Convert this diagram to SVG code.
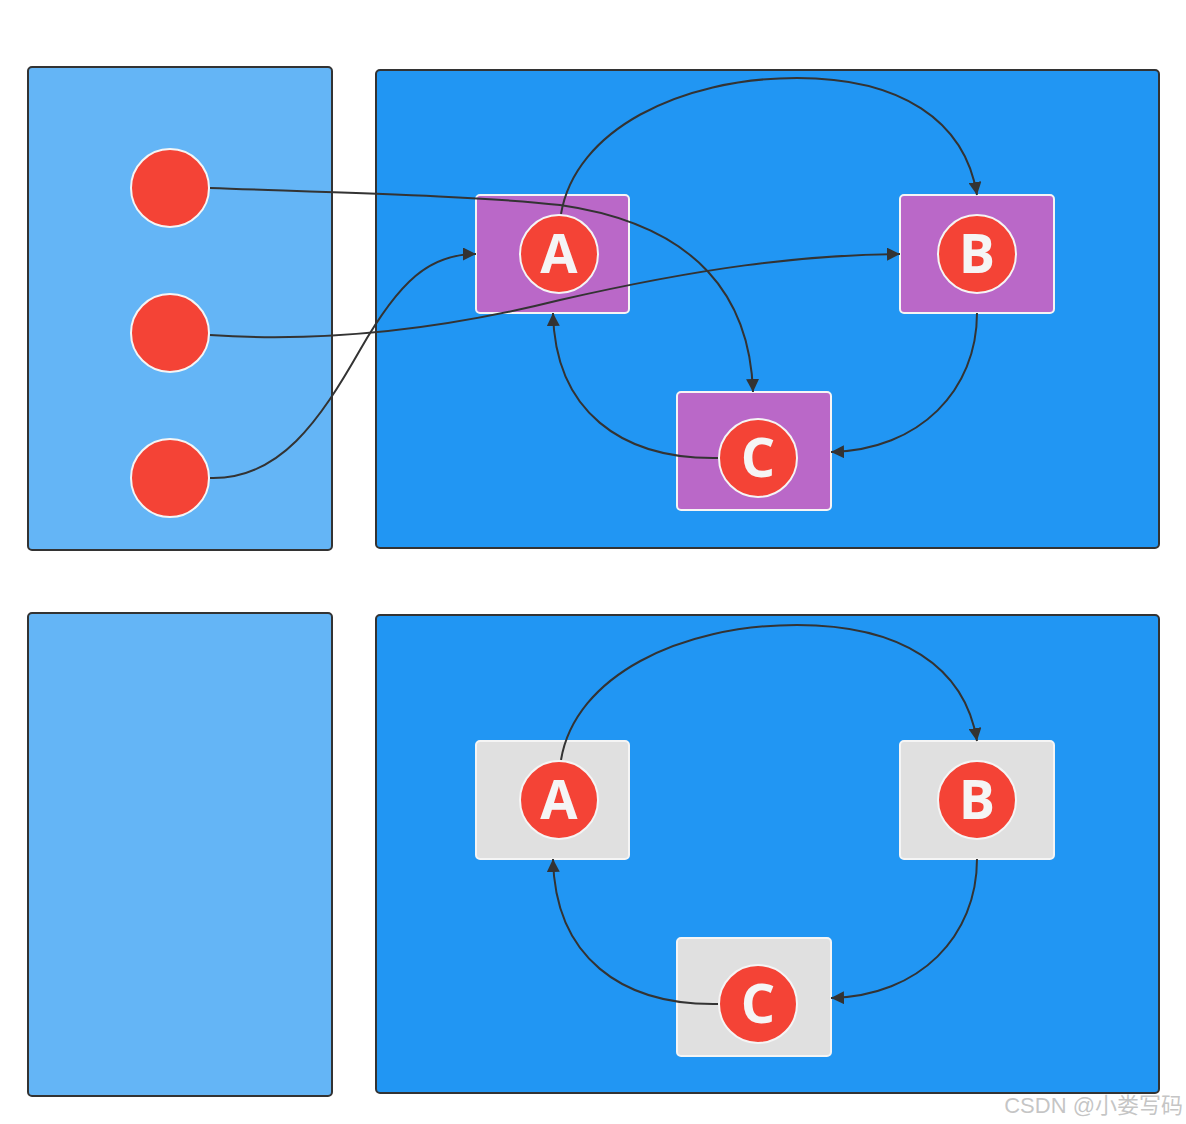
<svg xmlns="http://www.w3.org/2000/svg" width="1186" height="1124" viewBox="0 0 1186 1124">
<style>
.lp{fill:#64b5f6;stroke:#333;stroke-width:2}
.rp{fill:#2196f3;stroke:#333;stroke-width:2}
.box{fill:#ba68c8;stroke:#f5f5f5;stroke-width:2}
.gbox{fill:#e0e0e0;stroke:#f5f5f5;stroke-width:2}
.dot{fill:#f44336;stroke:#f5f5f5;stroke-width:2}
.lbl{font-family:"Open Sans","Noto Sans",sans-serif;font-weight:bold;font-size:54px;fill:#f5f5f5;text-anchor:middle}
.edge{fill:none;stroke:#333;stroke-width:2;marker-end:url(#ah)}
</style>
<defs>
<marker id="ah" viewBox="0 0 10 10" refX="10" refY="5" markerWidth="6.5" markerHeight="6.5" orient="auto" markerUnits="strokeWidth">
<path d="M0,0 L10,5 L0,10 z" fill="#333"/>
</marker>
</defs>
<rect width="1186" height="1124" fill="#fff"/>
<g id="panels">
<rect class="lp" x="28" y="67" width="304" height="483" rx="4"/>
<rect class="rp" x="376" y="70" width="783" height="478" rx="4"/>
<rect class="lp" x="28" y="613" width="304" height="483" rx="4"/>
<rect class="rp" x="376" y="615" width="783" height="478" rx="4"/>
</g>
<g id="nodeA1"><rect class="box" x="476" y="195" width="153" height="118" rx="4"/></g>
<g id="nodeB1"><rect class="box" x="900" y="195" width="154" height="118" rx="4"/></g>
<g id="nodeC1"><rect class="box" x="677" y="392" width="154" height="118" rx="4"/></g>
<g id="nodeA2"><rect class="gbox" x="476" y="741" width="153" height="118" rx="4"/></g>
<g id="nodeB2"><rect class="gbox" x="900" y="741" width="154" height="118" rx="4"/></g>
<g id="nodeC2"><rect class="gbox" x="677" y="938" width="154" height="118" rx="4"/></g>
<g id="connectors">
<path class="edge" d="M561,214 C575,130 680,78 797,78 C900,78 965,120 977,195"/>
<path class="edge" d="M210,188 C350,193 480,196 560,205 C700,225 750,300 753,392"/>
<path class="edge" d="M210,335 C300,341 420,335 560,300 C700,268 800,255 900,254"/>
<path class="edge" d="M210,478 C280,480 320,420 360,350 C400,280 430,254 476,254"/>
<path class="edge" d="M977,313 C977,390 920,450 831,452"/>
<path class="edge" d="M719,458 C620,460 555,410 553,313"/>
<path class="edge" d="M561,760 C575,676 680,625 797,625 C900,625 965,666 977,741"/>
<path class="edge" d="M977,859 C977,936 920,996 831,998"/>
<path class="edge" d="M719,1004 C620,1006 555,956 553,859"/>
</g>
<g id="dot1"><circle class="dot" cx="170" cy="188" r="39"/></g>
<g id="dot2"><circle class="dot" cx="170" cy="333" r="39"/></g>
<g id="dot3"><circle class="dot" cx="170" cy="478" r="39"/></g>
<g id="circA1"><circle class="dot" cx="559" cy="254" r="39"/><text class="lbl" x="559" y="273">A</text></g>
<g id="circB1"><circle class="dot" cx="977" cy="254" r="39"/><text class="lbl" x="977" y="273">B</text></g>
<g id="circC1"><circle class="dot" cx="758" cy="458" r="39"/><text class="lbl" x="758" y="477">C</text></g>
<g id="circA2"><circle class="dot" cx="559" cy="800" r="39"/><text class="lbl" x="559" y="819">A</text></g>
<g id="circB2"><circle class="dot" cx="977" cy="800" r="39"/><text class="lbl" x="977" y="819">B</text></g>
<g id="circC2"><circle class="dot" cx="758" cy="1004" r="39"/><text class="lbl" x="758" y="1023">C</text></g>
<text x="1183" y="1113" text-anchor="end" font-family="'Liberation Sans','Noto Sans CJK SC',sans-serif" font-size="22" fill="#bbbbbb" fill-opacity="0.85">CSDN @小娄写码</text>
</svg>
